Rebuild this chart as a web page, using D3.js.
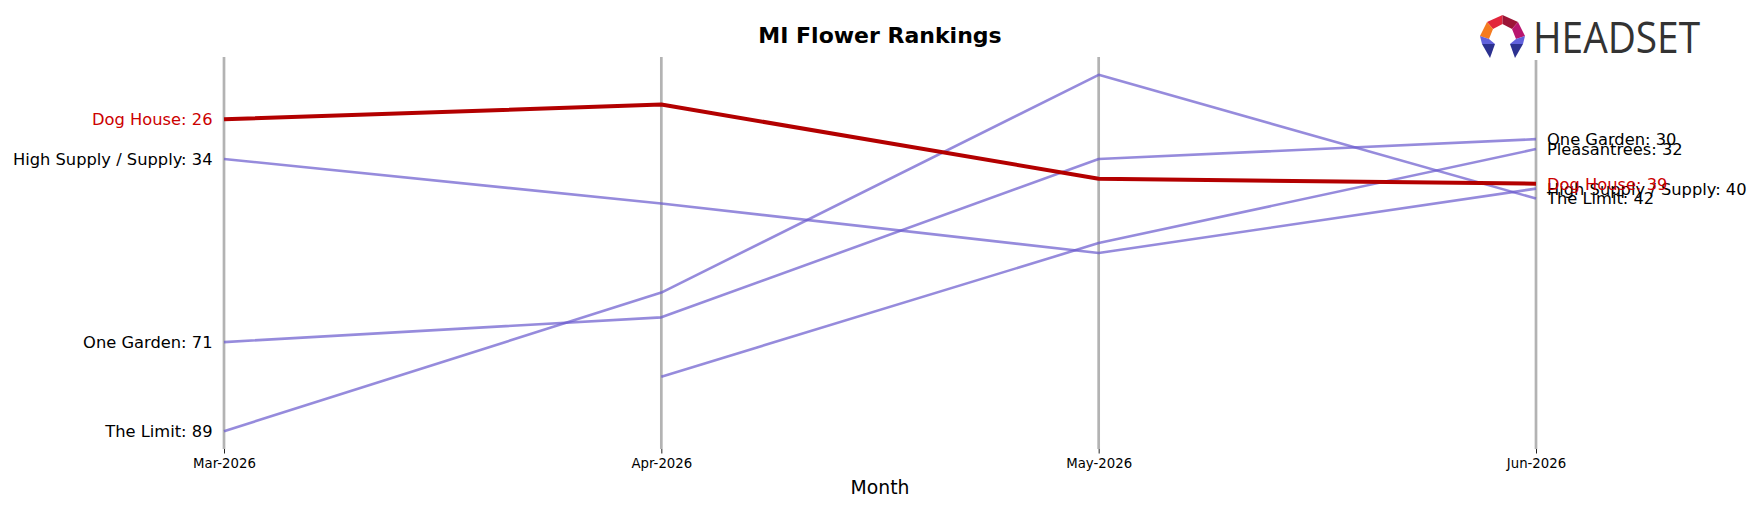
<!DOCTYPE html>
<html>
<head>
<meta charset="utf-8">
<script src="https://cdn.jsdelivr.net/npm/d3@7"></script>
<style>
  html, body { margin: 0; padding: 0; background: #fff; }
  svg { display: block; font-family: "DejaVu Sans", sans-serif; }
</style>
</head>
<body>
<svg id="chart" width="1760" height="507"></svg>
<script>
// Months on the x axis
const months = ["Mar-2026", "Apr-2026", "May-2026", "Jun-2026"];

// Monthly rank per brand (null = not ranked that month)
const dogHouse     = [26, 23, 38, 39];
const highSupply   = [34, 43, 53, 40];
const oneGarden    = [71, 66, 34, 30];
const theLimit     = [89, 61, 17, 42];
const pleasantrees = [null, 78, 51, 32];

const brands = [
  { name: "High Supply / Supply", ranks: highSupply },
  { name: "One Garden", ranks: oneGarden },
  { name: "The Limit", ranks: theLimit },
  { name: "Pleasantrees", ranks: pleasantrees },
  { name: "Dog House", ranks: dogHouse, highlight: true }
];

const rankExtent = [13.4, 92.6]; // y limits with a small margin round the ranks

const svg = d3.select("#chart");

// -----------------------------
// Scales
// -----------------------------
const x = d3.scalePoint().domain(months).range([224, 1536]);
const y = d3.scaleLinear().domain(rankExtent).range([57, 449]);

// -----------------------------
// Vertical month lines
// -----------------------------
svg.append("g").attr("class", "grid")
  .selectAll("line")
  .data(months)
  .join("line")
  .attr("x1", d => x(d)).attr("x2", d => x(d))
  .attr("y1", y(rankExtent[0])).attr("y2", y(rankExtent[1]))
  .attr("stroke", "#b3b3b3")
  .attr("stroke-width", 2.7);

// -----------------------------
// Rank lines
// -----------------------------
const line = d3.line()
  .defined(d => d.rank != null)
  .x(d => x(d.month))
  .y(d => y(d.rank));

svg.append("g").attr("class", "lines")
  .selectAll("path")
  .data(brands)
  .join("path")
  .attr("fill", "none")
  .attr("stroke", d => d.highlight ? "#b30000" : "#6a5acd")
  .attr("stroke-opacity", d => d.highlight ? 1 : 0.7)
  .attr("stroke-width", d => d.highlight ? 4 : 2.6)
  .attr("stroke-linejoin", "round")
  .attr("d", d => line(d.ranks.map((r, i) => ({ month: months[i], rank: r }))));

// -----------------------------
// End labels
// -----------------------------
const first = months[0], last = months[months.length - 1];

svg.append("g").attr("class", "labels-left")
  .selectAll("text")
  .data(brands.filter(b => b.ranks[0] != null))
  .join("text")
  .attr("x", x(first) - 11.5)
  .attr("y", d => y(d.ranks[0]))
  .attr("dy", "0.36em")
  .attr("text-anchor", "end")
  .attr("font-size", 16.3)
  .attr("fill", d => d.highlight ? "#cc0000" : "#000")
  .text(d => `${d.name}: ${d.ranks[0]}`);

svg.append("g").attr("class", "labels-right")
  .selectAll("text")
  .data(brands.filter(b => b.ranks[3] != null))
  .join("text")
  .attr("x", x(last) + 11)
  .attr("y", d => y(d.ranks[3]))
  .attr("dy", "0.36em")
  .attr("font-size", 16.3)
  .attr("fill", d => d.highlight ? "#cc0000" : "#000")
  .text(d => `${d.name}: ${d.ranks[3]}`);

// -----------------------------
// X axis
// -----------------------------
const xAxis = svg.append("g")
  .attr("transform", `translate(0,${y(rankExtent[1])})`)
  .call(d3.axisBottom(x).tickSize(4.5).tickPadding(5.5));
xAxis.select(".domain").remove();
xAxis.selectAll(".tick line").attr("stroke", "#222").attr("stroke-width", 1);
xAxis.selectAll(".tick text")
  .attr("font-family", "DejaVu Sans, sans-serif")
  .attr("font-size", 13.3)
  .attr("fill", "#000");

svg.append("text")
  .attr("x", 880).attr("y", 494)
  .attr("text-anchor", "middle")
  .attr("font-size", 18.8)
  .text("Month");

// Title
svg.append("text")
  .attr("x", 880).attr("y", 42.7)
  .attr("text-anchor", "middle")
  .attr("font-size", 22)
  .attr("font-weight", "bold")
  .text("MI Flower Rankings");

// -----------------------------
// Logo
// -----------------------------
const logo = svg.append("g").attr("class", "logo");
logo.append("rect")
  .attr("x", 1474).attr("y", 10).attr("width", 236).attr("height", 50)
  .attr("fill", "#fff");

const facets = [
  { c: "#e2263c", p: [[22.5, 0], [7, 7], [13, 14], [22.5, 9]] },
  { c: "#9c1537", p: [[22.5, 0], [38, 7], [32, 14], [22.5, 9]] },
  { c: "#f47b20", p: [[7, 7], [0, 21], [9, 24], [13, 14]] },
  { c: "#b8166f", p: [[38, 7], [45, 21], [36, 24], [32, 14]] },
  { c: "#6161dc", p: [[0, 21], [9, 24], [15, 29], [2, 29]] },
  { c: "#6161dc", p: [[45, 21], [36, 24], [30, 29], [43, 29]] },
  { c: "#2c3190", p: [[2, 29], [15, 29], [10, 43]] },
  { c: "#2c3190", p: [[43, 29], [30, 29], [35, 43]] }
];
logo.append("g")
  .attr("transform", "translate(1480,15)")
  .selectAll("polygon")
  .data(facets)
  .join("polygon")
  .attr("points", d => d.p.map(q => q.join(",")).join(" "))
  .attr("fill", d => d.c);

logo.append("text")
  .attr("x", 1533).attr("y", 53.3)
  .attr("font-family", "Open Sans, sans-serif")
  .attr("font-size", 43)
  .attr("fill", "#333")
  .attr("textLength", 167)
  .attr("lengthAdjust", "spacingAndGlyphs")
  .text("HEADSET");
</script>
</body>
</html>
